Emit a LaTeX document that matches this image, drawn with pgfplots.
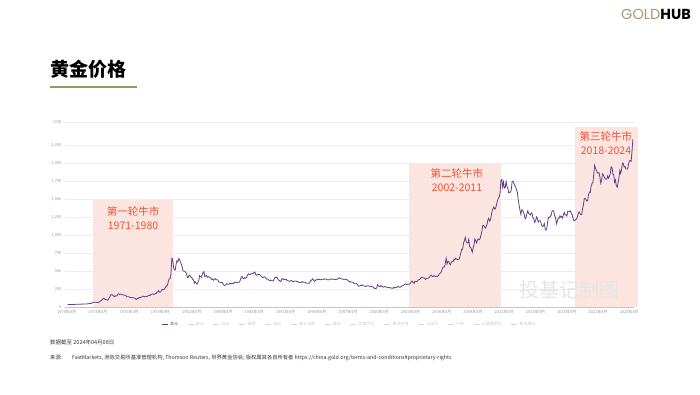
\documentclass[border=0pt]{standalone}
\usepackage{pgfplots}
\pgfplotsset{compat=1.18}
\usepackage{pgfplotstable}
\usepackage{fontspec}
\setmainfont{Noto Sans CJK SC}
\newfontfamily\logofont{Poppins}
\definecolor{linecol}{RGB}{96,66,132}
\definecolor{shade}{RGB}{252,229,224}
\definecolor{annot}{RGB}{240,82,52}
\definecolor{goldtan}{RGB}{168,150,110}
\definecolor{uline}{RGB}{160,148,100}
\definecolor{ticktext}{RGB}{150,150,150}
\definecolor{legtext}{RGB}{200,200,200}
\definecolor{leggray}{RGB}{215,215,215}

% monthly average gold price, USD/oz, Jan 1970 - Apr 2024
\pgfplotstableread[row sep=\\]{
y\\
34.9\\35.0\\35.1\\35.6\\35.5\\35.4\\35.3\\35.4\\36.2\\37.5\\37.4\\37.4\\
37.9\\38.7\\38.9\\39.0\\40.5\\40.1\\41.0\\42.7\\42.0\\42.5\\42.9\\43.5\\
45.8\\48.3\\48.3\\49.0\\54.6\\62.1\\65.7\\67.0\\65.5\\64.9\\62.9\\63.9\\
65.1\\74.2\\84.4\\90.5\\102.0\\120.1\\120.2\\106.8\\103.0\\100.1\\94.8\\106.7\\
129.2\\150.2\\168.4\\172.2\\163.0\\154.1\\143.0\\154.6\\151.8\\158.8\\181.7\\183.8\\
175.8\\179.6\\178.0\\170.0\\167.3\\164.2\\165.2\\162.0\\144.1\\142.8\\142.8\\139.3\\
131.6\\131.0\\132.6\\128.3\\127.0\\125.6\\117.5\\104.4\\115.9\\117.0\\130.3\\133.7\\
132.3\\136.4\\148.3\\149.1\\146.5\\140.8\\143.4\\144.8\\149.2\\158.9\\162.1\\160.5\\
173.2\\178.2\\183.7\\175.5\\176.3\\183.7\\188.6\\206.1\\212.5\\227.1\\206.1\\207.8\\
227.3\\245.7\\241.4\\239.2\\257.6\\279.1\\294.7\\300.8\\355.1\\391.7\\392.5\\455.1\\
675.3\\665.3\\553.6\\517.4\\513.8\\600.7\\644.3\\627.2\\673.6\\661.2\\623.5\\594.9\\
557.7\\499.8\\498.7\\494.7\\479.7\\460.8\\409.2\\410.8\\443.1\\437.8\\413.4\\410.1\\
384.1\\374.4\\330.4\\350.4\\333.4\\314.9\\339.3\\364.4\\435.4\\422.9\\414.4\\444.6\\
481.3\\491.0\\419.7\\432.1\\437.7\\412.8\\422.4\\416.3\\411.8\\393.6\\381.5\\388.0\\
370.9\\386.0\\394.3\\381.1\\377.3\\377.6\\347.5\\347.7\\341.1\\340.2\\341.2\\319.9\\
302.8\\299.1\\304.0\\324.9\\316.5\\316.8\\317.4\\330.2\\323.4\\325.6\\325.3\\322.4\\
345.5\\338.9\\345.7\\340.4\\342.5\\342.7\\348.5\\376.5\\418.0\\423.4\\397.9\\390.9\\
408.3\\401.1\\408.9\\438.4\\460.2\\449.6\\450.6\\460.7\\460.2\\465.4\\466.6\\486.3\\
477.0\\442.2\\443.6\\451.6\\451.0\\451.5\\437.3\\431.5\\412.5\\406.7\\419.9\\419.3\\
404.1\\387.9\\390.2\\384.1\\371.1\\367.6\\375.0\\365.4\\361.8\\366.9\\394.3\\409.4\\
410.1\\416.8\\393.1\\374.3\\369.1\\352.3\\362.5\\394.7\\389.3\\380.7\\381.9\\378.2\\
383.6\\363.5\\363.3\\358.4\\356.8\\366.7\\367.7\\356.4\\348.7\\358.7\\359.7\\361.1\\
354.5\\353.9\\344.3\\338.6\\337.4\\340.8\\353.1\\342.8\\345.4\\344.4\\335.0\\334.8\\
329.0\\329.3\\330.1\\342.2\\367.2\\371.3\\392.0\\379.8\\355.3\\364.2\\373.8\\383.3\\
386.9\\381.9\\384.1\\377.3\\381.4\\385.6\\385.5\\380.4\\391.6\\389.8\\384.4\\379.3\\
378.6\\376.5\\382.1\\391.0\\385.2\\387.6\\386.2\\383.7\\383.1\\383.0\\385.5\\387.4\\
399.5\\404.8\\396.2\\392.9\\391.9\\385.3\\383.5\\387.5\\383.1\\381.1\\377.9\\369.3\\
355.0\\346.6\\351.8\\344.5\\343.8\\340.8\\324.1\\324.0\\322.8\\324.9\\306.0\\288.7\\
289.1\\297.5\\295.9\\308.3\\299.1\\292.3\\292.9\\284.1\\289.0\\296.0\\294.1\\291.4\\
287.3\\287.3\\286.0\\282.6\\276.4\\261.3\\256.1\\256.7\\264.7\\310.7\\293.2\\283.1\\
284.6\\300.0\\286.4\\279.7\\275.1\\285.7\\281.6\\274.5\\273.7\\270.0\\266.0\\271.5\\
265.5\\261.9\\263.0\\260.5\\272.4\\270.2\\267.5\\272.4\\283.4\\283.1\\276.2\\275.9\\
281.7\\295.5\\294.0\\302.7\\314.5\\321.2\\313.3\\310.3\\319.2\\316.6\\319.1\\333.0\\
356.9\\359.0\\340.6\\328.2\\355.7\\356.4\\351.0\\359.8\\378.9\\378.9\\389.9\\407.6\\
414.0\\405.3\\406.7\\403.0\\383.8\\392.4\\398.1\\400.5\\405.3\\420.5\\439.4\\442.1\\
424.0\\423.4\\434.2\\429.2\\421.9\\430.7\\424.5\\437.9\\456.1\\469.9\\476.7\\510.1\\
549.9\\555.0\\557.1\\610.6\\676.5\\596.2\\633.7\\632.6\\598.2\\585.8\\627.8\\629.8\\
631.2\\664.8\\654.9\\679.4\\666.9\\655.5\\665.5\\665.3\\712.7\\754.6\\806.3\\803.2\\
889.6\\922.3\\968.4\\909.7\\888.7\\889.5\\939.8\\839.0\\829.9\\806.6\\760.9\\816.1\\
858.7\\943.2\\924.3\\890.2\\928.6\\945.7\\934.2\\949.5\\996.6\\1043.2\\1127.0\\1134.7\\
1117.9\\1095.4\\1113.3\\1148.7\\1205.4\\1232.9\\1192.9\\1215.8\\1270.9\\1342.0\\1369.9\\1391.0\\
1356.4\\1372.7\\1424.0\\1473.8\\1510.4\\1528.7\\1572.8\\1756.0\\1771.9\\1665.2\\1738.9\\1652.3\\
1656.1\\1742.6\\1673.8\\1649.7\\1585.5\\1596.7\\1593.9\\1630.3\\1744.5\\1746.6\\1721.6\\1684.8\\
1671.9\\1627.6\\1593.1\\1487.9\\1414.0\\1343.4\\1285.5\\1347.1\\1348.6\\1316.6\\1275.8\\1225.4\\
1244.3\\1300.0\\1336.1\\1298.5\\1288.7\\1279.1\\1310.6\\1295.1\\1236.6\\1222.5\\1175.3\\1200.6\\
1251.8\\1227.1\\1178.6\\1198.9\\1198.6\\1181.5\\1130.8\\1117.9\\1124.5\\1159.3\\1086.4\\1068.3\\
1097.4\\1199.5\\1245.1\\1242.3\\1260.9\\1276.4\\1336.7\\1340.2\\1326.6\\1266.6\\1238.4\\1157.4\\
1192.1\\1234.2\\1231.4\\1266.9\\1246.0\\1260.3\\1236.8\\1283.0\\1314.1\\1279.5\\1281.9\\1264.5\\
1331.3\\1330.7\\1324.7\\1334.8\\1303.0\\1282.0\\1237.7\\1201.7\\1198.4\\1215.4\\1220.7\\1250.4\\
1291.8\\1320.1\\1300.9\\1285.9\\1283.7\\1359.0\\1412.9\\1500.4\\1510.6\\1494.8\\1470.0\\1479.1\\
1560.7\\1597.1\\1591.9\\1683.2\\1715.9\\1732.2\\1846.5\\1968.6\\1921.9\\1900.3\\1866.3\\1858.4\\
1867.0\\1808.2\\1718.2\\1760.0\\1850.3\\1834.6\\1807.8\\1785.3\\1775.6\\1776.9\\1821.3\\1790.3\\
1817.0\\1856.3\\1947.8\\1936.9\\1848.5\\1836.6\\1732.7\\1764.6\\1680.7\\1664.5\\1725.9\\1797.6\\
1898.4\\1855.0\\1912.7\\1999.8\\1991.8\\1942.9\\1951.0\\1918.3\\1916.5\\1916.7\\1986.8\\2030.3\\
2033.9\\2023.5\\2158.3\\2330.0\\
}\goldtable

\begin{document}
\begin{tikzpicture}
\path (0pt,0pt) rectangle (700pt,394pt);

% logo
\node[anchor=east, inner sep=0pt] at (691pt,380pt)
  {\logofont\fontsize{14.5}{14.5}\selectfont\textcolor{goldtan}{GOLD}\textcolor{black}{\bfseries HUB}};

% title
\node[anchor=west, inner sep=0pt] at (50pt,325pt)
  {\fontsize{19}{19}\selectfont\bfseries 黄金价格};
\fill[uline] (50pt,306pt) rectangle (137pt,308pt);

\begin{axis}[
  at={(65pt,87pt)}, anchor=south west,
  scale only axis, width=569pt, height=185pt,
  xmin=1969.75, xmax=2024.36, ymin=0, ymax=2570,
  set layers=standard,
  clip=false,
  axis x line*=bottom, axis y line*=left,
  x axis line style={draw=gray!45, line width=0.5pt, -},
  y axis line style={draw=none, -},
  major tick length=0pt,
  ymajorgrids, grid style={draw=gray!15, line width=0.4pt},
  ytick={0,250,...,2250},
  extra y ticks={2570}, extra y tick labels={USD},
  extra y tick style={ymajorgrids},
  xtick={1969.91,1972.91,1975.91,1978.91,1981.91,1984.91,1987.91,1990.91,1993.91,1996.91,1999.91,2002.91,2005.91,2008.91,2011.91,2014.91,2017.91,2020.91,2023.91},
  xticklabels={1970年4月,1973年4月,1976年4月,1979年4月,1982年4月,1985年4月,1988年4月,1991年4月,1994年4月,1997年4月,2000年4月,2003年4月,2006年4月,2009年4月,2012年4月,2015年4月,2018年4月,2021年4月,2024年4月},
  tick label style={font=\fontsize{4}{4}\selectfont, text=ticktext},
  /pgf/number format/1000 sep={,},
  /pgf/number format/assume math mode=true,
  legend columns=-1,
  legend cell align=left,
  legend style={at={(0.5,-0.07)}, anchor=north, draw=none, fill=none,
    font=\fontsize{4}{4}\selectfont, inner sep=0pt,
    /tikz/every even column/.append style={column sep=7pt}},
  legend image code/.code={\draw[#1, line width=0.8pt] (0pt,0pt) -- (6pt,0pt);},
]
% bull market shading
\addplot[on layer=axis background, draw=none, fill=shade, forget plot]
  coordinates {(1972.44,0) (1972.44,1500) (1980.07,1500) (1980.07,0)} -- cycle;
\addplot[on layer=axis background, draw=none, fill=shade, forget plot]
  coordinates {(2002.76,0) (2002.76,2000) (2011.59,2000) (2011.59,0)} -- cycle;
\addplot[on layer=axis background, draw=none, fill=shade, forget plot]
  coordinates {(2018.69,0) (2018.69,2500) (2024.74,2500) (2024.74,0)} -- cycle;

\addplot[color=linecol, line width=0.8pt, mark=none]
  table[x expr=1970+\coordindex/12, y=y] {\goldtable};
\addlegendentry{\textcolor{gray!80!black}{美元}}
\addlegendimage{leggray}\addlegendentry{\textcolor{legtext}{欧元}}
\addlegendimage{leggray}\addlegendentry{\textcolor{legtext}{日元}}
\addlegendimage{leggray}\addlegendentry{\textcolor{legtext}{英镑}}
\addlegendimage{leggray}\addlegendentry{\textcolor{legtext}{加元}}
\addlegendimage{leggray}\addlegendentry{\textcolor{legtext}{瑞士法郎}}
\addlegendimage{leggray}\addlegendentry{\textcolor{legtext}{澳元}}
\addlegendimage{leggray}\addlegendentry{\textcolor{legtext}{印度卢比}}
\addlegendimage{leggray}\addlegendentry{\textcolor{legtext}{南非兰特}}
\addlegendimage{leggray}\addlegendentry{\textcolor{legtext}{人民币}}
\addlegendimage{leggray}\addlegendentry{\textcolor{legtext}{卢布}}
\addlegendimage{leggray}\addlegendentry{\textcolor{legtext}{土耳其里拉}}
\addlegendimage{leggray}\addlegendentry{\textcolor{legtext}{新加坡元}}

\node[text=annot, align=center, font=\fontsize{10.5}{14}\selectfont] at (axis cs:1976.28,1236) {第一轮牛市\\1971-1980};
\node[text=annot, align=center, font=\fontsize{10.5}{14}\selectfont] at (axis cs:2007.37,1757) {第二轮牛市\\2002-2011};
\node[text=annot, align=center, font=\fontsize{10.5}{14}\selectfont] at (axis cs:2021.67,2278) {第三轮牛市\\2018-2024};
\node[text=gray!20, font=\fontsize{20}{20}\selectfont] at (axis cs:2018.21,236) {投基记制图};
\end{axis}

% footnotes
\node[anchor=west, inner sep=0pt, text=black!80] at (50pt,52pt)
  {\fontsize{5.5}{5.5}\selectfont 数据截至 2024年04月08日};
\node[anchor=west, inner sep=0pt, text=black!80] at (50pt,36pt)
  {\fontsize{5.3}{5.3}\selectfont 来源：\hspace*{6pt}FastMarkets, 洲际交易所基准管理机构, Thomson Reuters, 世界黄金协会; 版权属其各自所有者 https://china.gold.org/terms-and-conditions\#proprietary-rights};

\pgfresetboundingbox
\path[use as bounding box] (0pt,0pt) rectangle (700pt,394pt);
\end{tikzpicture}
\end{document}
